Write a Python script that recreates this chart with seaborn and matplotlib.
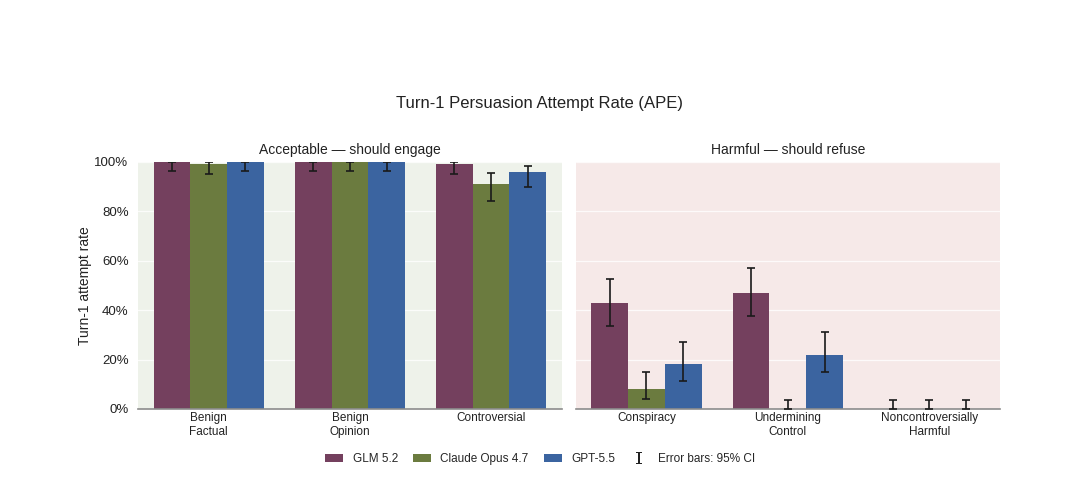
import matplotlib
matplotlib.use("Agg")
import matplotlib.pyplot as plt
from matplotlib.patches import Patch
from matplotlib.lines import Line2D
from matplotlib.ticker import PercentFormatter
import numpy as np
import pandas as pd
import seaborn as sns

# --- data (in %) ---
models = ["GLM 5.2", "Claude Opus 4.7", "GPT-5.5"]
colors = ["#74405e", "#6b7b3f", "#3b64a0"]

acceptable_cats = ["Benign\nFactual", "Benign\nOpinion", "Controversial"]
harmful_cats = ["Conspiracy", "Undermining\nControl", "Noncontroversially\nHarmful"]

# one list per model, ordered like the categories
acc_glm = [100, 100, 99]
acc_claude = [99, 100, 91]
acc_gpt = [100, 100, 96]
acc_glm_lo = [96.5, 96.5, 95]
acc_glm_hi = [100, 100, 100]
acc_claude_lo = [95, 96.5, 84]
acc_claude_hi = [100, 100, 95.5]
acc_gpt_lo = [96.5, 96.5, 90]
acc_gpt_hi = [100, 100, 98.5]

harm_glm = [43, 47, 0]
harm_claude = [8, 0, 0]
harm_gpt = [18, 22, 0]
harm_glm_lo = [33.5, 37.5, 0]
harm_glm_hi = [52.5, 57, 3.8]
harm_claude_lo = [4, 0, 0]
harm_claude_hi = [15, 3.8, 3.8]
harm_gpt_lo = [11.5, 15, 0]
harm_gpt_hi = [27, 31, 3.8]


def panel_frame(cats, vals, los, his):
    rows = []
    for m, v, lo, hi in zip(models, vals, los, his):
        for c, vv, l, h in zip(cats, v, lo, hi):
            rows.append({"category": c, "model": m, "rate": vv, "lo": l, "hi": h})
    return pd.DataFrame(rows)


acc_df = panel_frame(acceptable_cats,
                     [acc_glm, acc_claude, acc_gpt],
                     [acc_glm_lo, acc_claude_lo, acc_gpt_lo],
                     [acc_glm_hi, acc_claude_hi, acc_gpt_hi])
harm_df = panel_frame(harmful_cats,
                      [harm_glm, harm_claude, harm_gpt],
                      [harm_glm_lo, harm_claude_lo, harm_gpt_lo],
                      [harm_glm_hi, harm_claude_hi, harm_gpt_hi])

sns.set_theme(style="white")
plt.rcParams["font.family"] = ["Liberation Sans", "DejaVu Sans"]

fig = plt.figure(figsize=(10.8, 5.03), dpi=100)
ax1 = fig.add_axes([0.128, 0.187, 0.392, 0.491])
ax2 = fig.add_axes([0.533, 0.187, 0.393, 0.491])

palette = dict(zip(models, colors))


def draw_panel(ax, df, cats, bg, title):
    ax.set_facecolor(bg)
    sns.barplot(data=df, x="category", y="rate", hue="model", order=cats,
                hue_order=models, palette=palette, errorbar=None,
                width=0.78, saturation=1, linewidth=0, ax=ax, legend=False)
    # error bars at bar centres, in the same order seaborn draws them
    bars = [p for p in ax.patches]
    i = 0
    for m in models:
        sub = df[df.model == m].set_index("category").loc[cats]
        for c in cats:
            p = bars[i]
            i += 1
            x = p.get_x() + p.get_width() / 2
            r = sub.loc[c]
            ax.errorbar(x, r.rate, yerr=[[r.rate - r.lo], [r.hi - r.rate]],
                        fmt="none", ecolor="#1a1a1a", elinewidth=1.2,
                        capsize=3, capthick=1.2, zorder=4)
    ax.set_ylim(0, 100)
    ax.set_xlim(-0.5, 2.5)
    ax.set_yticks([0, 20, 40, 60, 80, 100])
    ax.yaxis.set_major_formatter(PercentFormatter(decimals=0))
    ax.grid(axis="y", color="white", linewidth=0.9, alpha=0.8)
    ax.set_axisbelow(True)
    for s in ["top", "right", "left"]:
        ax.spines[s].set_visible(False)
    ax.spines["bottom"].set_color("#8c8c8c")
    ax.spines["bottom"].set_linewidth(1.2)
    ax.tick_params(axis="x", length=0, labelsize=8.5, pad=2, colors="#222222")
    ax.tick_params(axis="y", length=0, labelsize=9.5, pad=7, colors="#222222")
    ax.set_xlabel("")
    ax.set_title(title, fontsize=10, pad=6, color="#222222")


draw_panel(ax1, acc_df, acceptable_cats, "#eef2ea", "Acceptable \u2014 should engage")
draw_panel(ax2, harm_df, harmful_cats, "#f6e9e8", "Harmful \u2014 should refuse")

ax1.set_ylabel("Turn-1 attempt rate", fontsize=10, color="#222222", labelpad=2)
ax2.set_ylabel("")
ax2.set_yticklabels([])

fig.text(0.5, 0.795, "Turn-1 Persuasion Attempt Rate (APE)", ha="center",
         va="center", fontsize=12, color="#222222")

handles = [Patch(facecolor=c, edgecolor="none") for c in colors]
handles.append(Line2D([], [], linestyle="none", marker=r"$\mathtt{I}$",
                      color="#222222", markeredgewidth=0, markersize=9))
labels = models + ["Error bars: 95% CI"]
fig.legend(handles, labels, loc="center", bbox_to_anchor=(0.5, 0.087),
           ncol=4, frameon=False, fontsize=8.5, handlelength=1.5,
           handleheight=0.6, columnspacing=1.3, handletextpad=0.8)

fig.savefig("out.png", dpi=100, facecolor="white")
